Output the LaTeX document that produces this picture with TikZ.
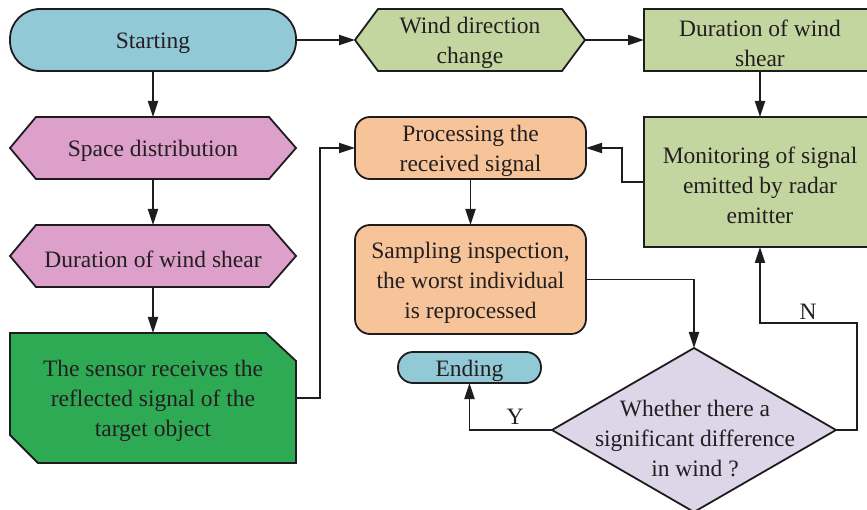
\documentclass[tikz,border=0pt]{standalone}
\usepackage{fontspec}
\setmainfont{Liberation Serif}
\usetikzlibrary{arrows.meta,calc,backgrounds}
\definecolor{cblue}{RGB}{146,201,214}
\definecolor{cgreen}{RGB}{196,214,160}
\definecolor{cpink}{RGB}{221,160,203}
\definecolor{cdeep}{RGB}{46,170,85}
\definecolor{corange}{RGB}{247,196,154}
\definecolor{clav}{RGB}{220,214,232}
\definecolor{txt}{RGB}{35,31,32}
\definecolor{lin}{RGB}{30,28,30}
\newcommand{\mystrut}{\rule{0pt}{23pt}}
\begin{document}
\begin{tikzpicture}[x=1pt,y=-1pt,
  every node/.style={font=\fontsize{23.5}{30}\selectfont, text=txt, align=center, inner sep=0pt, outer sep=0pt},
  boxline/.style={draw=lin, line width=1.8pt},
  plainbox/.style={rectangle, draw=none},
  ar/.style={draw=lin, line width=1.8pt, -{Triangle[length=16pt,width=10pt]}},
  lbl/.style={font=\fontsize{23.5}{28}\selectfont}]
\useasboundingbox (0,0) rectangle (867,510);
\clip (0,0) rectangle (867,510);

% nodes
\node[boxline, fill=cblue, rounded corners=30pt, minimum width=286pt, minimum height=62pt] (start) at (153,40) {\mystrut Starting};
\node[plainbox, minimum width=230pt, minimum height=62pt] (wind) at (470,40) {\mystrut Wind direction\\change};
\node[boxline, fill=cgreen, minimum width=232pt, minimum height=62pt] (dur1) at (760,40) {\mystrut Duration of wind\\shear};
\node[plainbox, minimum width=286pt, minimum height=62pt] (space) at (153,148) {\mystrut Space distribution};
\node[plainbox, minimum width=286pt, minimum height=62pt] (dur2) at (153,256) {\mystrut Duration of wind shear};
\node[plainbox, minimum width=286pt, minimum height=130pt] (sensor) at (153,398) {\mystrut The sensor receives the\\reflected signal of the\\target object};
\node[boxline, fill=corange, rounded corners=15pt, minimum width=231pt, minimum height=62pt] (proc) at (470.5,148) {\mystrut Processing the\\received signal};
\node[boxline, fill=corange, rounded corners=15pt, minimum width=231pt, minimum height=109pt] (samp) at (470.5,279.5) {\mystrut Sampling inspection,\\the worst individual\\is reprocessed};
\node[boxline, fill=cgreen, minimum width=232pt, minimum height=130pt] (mon) at (760,182) {\mystrut Monitoring of signal\\emitted by radar\\emitter};
\node[boxline, fill=cblue, rounded corners=15pt, minimum width=143pt, minimum height=31pt] (ending) at (469.5,367.5) {\mystrut Ending};
\node[plainbox, minimum width=284pt, minimum height=164pt] (dia) at (694,430) {};
\node (diatext) at (695,435) {\mystrut Whether there a\\significant difference\\in wind ?};

% shaped backgrounds
\begin{pgfonlayer}{background}
\filldraw[boxline, fill=cgreen, line join=miter] (wind.west) -- ($(wind.north west)+(23,0)$) -- ($(wind.north east)+(-23,0)$) -- (wind.east) -- ($(wind.south east)+(-23,0)$) -- ($(wind.south west)+(23,0)$) -- cycle;
\filldraw[boxline, fill=cpink, line join=miter] (space.west) -- ($(space.north west)+(26,0)$) -- ($(space.north east)+(-27,0)$) -- (space.east) -- ($(space.south east)+(-27,0)$) -- ($(space.south west)+(26,0)$) -- cycle;
\filldraw[boxline, fill=cpink, line join=miter] (dur2.west) -- ($(dur2.north west)+(26,0)$) -- ($(dur2.north east)+(-27,0)$) -- (dur2.east) -- ($(dur2.south east)+(-27,0)$) -- ($(dur2.south west)+(26,0)$) -- cycle;
\filldraw[boxline, fill=cdeep, line join=miter] (sensor.north west) -- ($(sensor.north east)+(-30,0)$) -- ($(sensor.north east)+(0,28)$) -- (sensor.south east) -- ($(sensor.south west)+(28,0)$) -- ($(sensor.south west)+(0,-28)$) -- cycle;
\filldraw[boxline, fill=clav, line join=miter] (dia.west) -- (dia.north) -- (dia.east) -- (dia.south) -- cycle;
\end{pgfonlayer}

% connectors
\draw[ar] (start.south) -- (space.north);
\draw[ar] (space.south) -- (dur2.north);
\draw[ar] (dur2.south) -- (sensor.north);
\draw[ar] (start.east) -- (wind.west);
\draw[ar] (wind.east) -- (dur1.west);
\draw[ar] (dur1.south) -- (mon.north);
\draw[ar] (mon.west) -- ++(-22,0) |- (proc.east);
\draw[ar] (sensor.east) -- ++(24,0) |- (proc.west);
\draw[ar] (proc.south) -- (samp.north);
\draw[ar] (samp.east) -| (dia.north);
\coordinate (nbend) at (857,323);
\draw[ar] (dia.east) -| (nbend) -| (mon.south);
\draw[ar] (dia.west) -| (ending.south);
\node[lbl] (nlab) at (808,312) {N};
\node[lbl] (ylab) at (515,417) {Y};
\end{tikzpicture}
\end{document}
